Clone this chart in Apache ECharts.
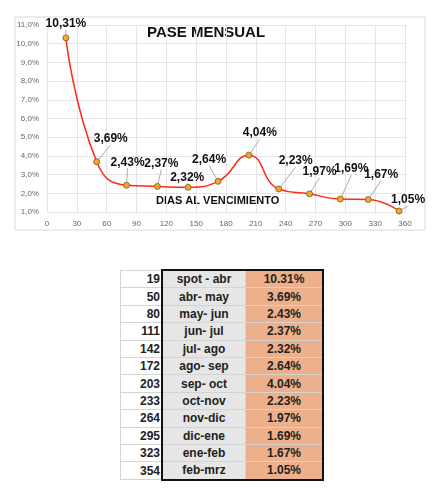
<!DOCTYPE html>
<html><head><meta charset="utf-8">
<script src="https://cdn.jsdelivr.net/npm/echarts@6/dist/echarts.min.js"></script>
<style>
html,body{margin:0;padding:0;background:#fff;}
#c{position:absolute;left:0;top:0;width:440px;height:250px;}
table{position:absolute;left:120px;top:269px;border-collapse:collapse;font-family:"Liberation Sans Narrow","Liberation Sans",Arial,sans-serif;font-weight:bold;font-size:12px;color:#222;}
td{height:16.4px;padding:0;border:1px solid #d4d4d4;}
td.d{width:39px;text-align:right;padding-right:1px;background:#fff;}
td.l{width:82px;text-align:center;background:#e6e6e6;}
td.v{width:76px;text-align:center;background:#eeb08a;}
</style></head><body>
<div id="c"></div>
<table id="t"></table>
<script>
const days=[19,50,80,111,142,172,203,233,264,295,323,354];
const periods=["spot - abr","abr- may","may- jun","jun- jul","jul- ago","ago- sep","sep- oct","oct-nov","nov-dic","dic-ene","ene-feb","feb-mrz"];
const rates=[10.31,3.69,2.43,2.37,2.32,2.64,4.04,2.23,1.97,1.69,1.67,1.05];
const offs=[[0,-14],[14,-23],[1,-23],[4,-23],[-1,-10],[-9,-22],[11,-22],[17,-28],[10,-22],[11,-30],[13,-25],[9,-11]];
const F='"Liberation Sans Narrow","Liberation Sans",Arial';

const t=document.getElementById('t');
days.forEach((d,i)=>{
  const tr=document.createElement('tr');
  const bt=i===0?'border-top:2px solid #111;':'';
  const bb=i===days.length-1?'border-bottom:2px solid #111;':'';
  tr.innerHTML='<td class="d">'+d+'</td><td class="l" style="border-left:2px solid #111;'+bt+bb+'">'+periods[i]+'</td><td class="v" style="border-right:2px solid #111;'+bt+bb+'">'+rates[i].toFixed(2)+'%</td>';
  t.appendChild(tr);
});

const ch=echarts.init(document.getElementById('c'));
const fmt=v=>v.toFixed(2).replace('.',',')+'%';
ch.setOption({
  animation:false,
  grid:{left:47,right:35,top:25,bottom:38},
  graphic:[
    {type:'rect',shape:{x:15,y:17,width:410,height:213},style:{fill:'none',stroke:'#d9d9d9',lineWidth:1},z:-1},
    {type:'text',left:147,top:25,style:{text:'PASE MENSUAL',font:'bold 15px '+F,fill:'#111'}},
    {type:'text',left:156,top:195,style:{text:'DIAS AL VENCIMIENTO',font:'bold 11px '+F,fill:'#111'}}
  ],
  xAxis:{type:'value',min:0,max:360,interval:30,
    axisLine:{show:false},axisTick:{show:false},
    axisLabel:{color:'#666',fontSize:8,margin:8},
    splitLine:{lineStyle:{color:'#e4e4e4'}}},
  yAxis:{type:'value',min:1,max:11,interval:1,
    axisLine:{show:false},axisTick:{show:false},
    axisLabel:{color:'#666',fontSize:8,formatter:v=>v.toFixed(1).replace('.',',')+'%'},
    splitLine:{lineStyle:{color:'#e4e4e4'}}},
  series:[{type:'line',smooth:0.5,
    data:days.map((d,i)=>[d,rates[i]]),
    lineStyle:{color:'#ff2a1a',width:1.5},
    symbol:'circle',symbolSize:6,
    itemStyle:{color:'#f0a830',borderColor:'#7a5a10',borderWidth:0.8},
    label:{show:true,position:'inside',formatter:p=>fmt(p.value[1]),
      fontFamily:F,fontWeight:'bold',fontSize:12,color:'#111'},
    labelLine:{show:true,lineStyle:{color:'#999',width:0.8}},
    labelLayout:p=>({dx:offs[p.dataIndex][0],dy:offs[p.dataIndex][1]})
  }]
});
</script></body></html>
